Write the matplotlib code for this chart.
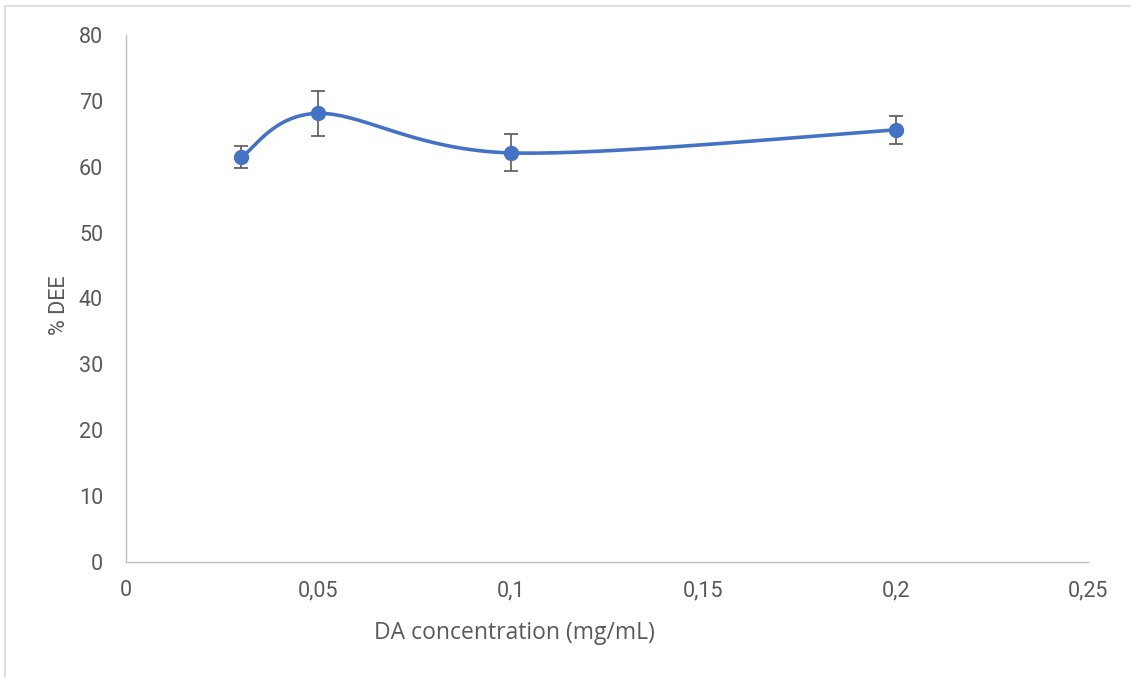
import numpy as np
import matplotlib.pyplot as plt
from matplotlib.patches import Rectangle
from matplotlib.ticker import FuncFormatter

# data
conc = [0.03, 0.05, 0.1, 0.2]
dee = [61.5, 68.1, 62.1, 65.6]
err_up = [1.7, 3.4, 2.9, 2.1]
err_down = [1.7, 3.4, 2.7, 2.1]

plt.rcParams['font.family'] = ['Roboto', 'DejaVu Sans']

fig = plt.figure(figsize=(11.31, 6.77), dpi=100)
ax = fig.add_axes([0.1114, 0.1699, 0.8506, 0.7784])

xmax, ymax = 0.25, 80
W, H = 962.0, 527.0  # axes size in pixels, used to smooth like Excel


def smooth(xs, ys, n=60):
    # Catmull-Rom style bezier in screen space
    px = np.array(xs) / xmax * W
    py = np.array(ys) / ymax * H
    pts = np.column_stack([px, py])
    out = []
    for i in range(len(pts) - 1):
        p0 = pts[i - 1] if i > 0 else pts[i]
        p1 = pts[i]
        p2 = pts[i + 1]
        p3 = pts[i + 2] if i + 2 < len(pts) else pts[i + 1]
        c1 = p1 + (p2 - p0) / 6
        c2 = p2 - (p3 - p1) / 6
        t = np.linspace(0, 1, n)[:, None]
        seg = (1 - t) ** 3 * p1 + 3 * (1 - t) ** 2 * t * c1 + 3 * (1 - t) * t ** 2 * c2 + t ** 3 * p2
        out.append(seg)
    out = np.vstack(out)
    return out[:, 0] / W * xmax, out[:, 1] / H * ymax


sx, sy = smooth(conc, dee)
ax.plot(sx, sy, color='#4472C4', lw=2.6, solid_capstyle='round', zorder=2)
ax.errorbar(conc, dee, yerr=[err_down, err_up], fmt='none', ecolor='#595959',
            elinewidth=1.2, capsize=5, capthick=1.2, zorder=3)
ax.plot(conc, dee, 'o', color='#4472C4', markersize=10, zorder=4)

ax.set_xlim(0, xmax)
ax.set_ylim(0, ymax)
ax.set_xticks(np.arange(0, 0.26, 0.05))
ax.set_yticks(np.arange(0, 81, 10))
ax.xaxis.set_major_formatter(FuncFormatter(lambda v, p: ('%g' % round(v, 2)).replace('.', ',')))
ax.tick_params(length=0, labelsize=15.5, colors='#595959')
ax.tick_params(axis='x', pad=13)
ax.tick_params(axis='y', pad=16.5)

for s in ['top', 'right']:
    ax.spines[s].set_visible(False)
for s in ['left', 'bottom']:
    ax.spines[s].set_color('#BFBFBF')
    ax.spines[s].set_linewidth(1.0)

ax.set_xlabel('DA concentration (mg/mL)', fontsize=16.5, color='#595959', family=['Open Sans', 'DejaVu Sans'])
ax.set_ylabel('% DEE', fontsize=15.5, color='#595959')
ax.xaxis.set_label_coords(0.404, -0.112)
ax.yaxis.set_label_coords(-0.058, 0.488)

# chart border (top and left visible)
fig.patches.append(Rectangle((5 / 1131, -0.1), 1.2, 1.1 - 6 / 677, transform=fig.transFigure,
                             fill=False, edgecolor='#D9D9D9', lw=1.2))

fig.savefig('out.png', dpi=100, facecolor='white')
